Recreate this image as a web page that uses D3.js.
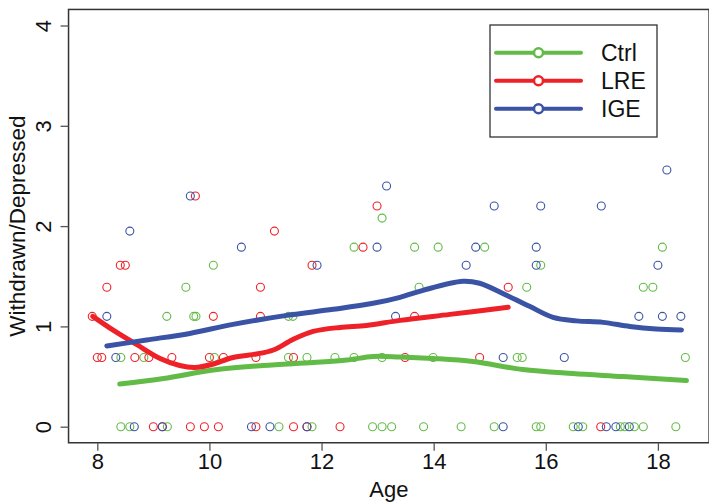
<!DOCTYPE html>
<html><head><meta charset="utf-8">
<script src="https://cdn.jsdelivr.net/npm/d3@7"></script>
<style>body{margin:0;background:#fff}svg{display:block}</style>
</head><body>
<svg id="chart" width="709" height="504"></svg>
<script>
// ---- data ----
const groups = ["Ctrl", "LRE", "IGE"];
const groupColors = ["#62BB46", "#EE2128", "#3A53A4"];
const xTicks = [8, 10, 12, 14, 16, 18];
const yTicks = [0, 1, 2, 3, 4];

// Ctrl points: [age, value]
const ctrlPoints = [
  [8.42,0],[8.58,0],[9.25,0],[11.24,0],[11.83,0],[12.91,0],[13.08,0],[13.25,0],[13.82,0],[14.49,0],
  [15.08,0],[15.83,0],[15.91,0],[16.49,0],[16.66,0],[17.33,0],[17.41,0],[17.58,0],[17.74,0],[18.32,0],
  [8.42,0.69],[8.83,0.69],[10.09,0.69],[11.41,0.69],[11.74,0.69],[12.24,0.69],[12.58,0.69],[13.08,0.69],
  [13.99,0.69],[15.49,0.69],[15.58,0.69],[18.49,0.69],
  [9.24,1.10],[9.72,1.10],[9.76,1.10],[11.41,1.10],[11.49,1.10],
  [9.58,1.39],[13.74,1.39],[15.66,1.39],[17.74,1.39],[17.91,1.39],
  [10.07,1.61],[15.91,1.61],
  [12.58,1.79],[13.66,1.79],[14.08,1.79],[14.91,1.79],[18.08,1.79],
  [13.08,2.08]
];
// LRE points
const lrePoints = [
  [9.00,0],[9.16,0],[9.66,0],[9.91,0],[10.16,0],[10.83,0],[11.50,0],[11.74,0],[12.33,0],[16.98,0],
  [8.00,0.69],[8.08,0.69],[8.67,0.69],[8.92,0.69],[9.33,0.69],[10.00,0.69],[10.25,0.69],[10.83,0.69],
  [11.50,0.69],[13.49,0.69],[14.82,0.69],
  [7.91,1.10],[10.07,1.10],[10.91,1.10],[13.66,1.10],
  [8.17,1.39],[10.91,1.39],[15.33,1.39],
  [8.41,1.61],[8.50,1.61],[11.83,1.61],
  [12.74,1.79],
  [11.16,1.95],
  [12.99,2.20],
  [9.75,2.30]
];
// IGE points
const igePoints = [
  [8.66,0],[9.16,0],[10.75,0],[11.08,0],[11.74,0],[15.24,0],[16.58,0],[17.08,0],[17.25,0],[17.49,0],
  [8.33,0.69],[15.24,0.69],[16.33,0.69],
  [8.17,1.10],[13.32,1.10],[17.66,1.10],[18.08,1.10],[18.41,1.10],
  [11.92,1.61],[14.58,1.61],[15.83,1.61],[18.00,1.61],
  [10.57,1.79],[12.99,1.79],[14.75,1.79],[15.83,1.79],
  [8.58,1.95],
  [15.08,2.20],[15.91,2.20],[16.99,2.20],
  [9.66,2.30],
  [13.16,2.40],
  [18.16,2.56]
];

// smoothed curves
const ctrlCurve = [
  [8.40,0.425],[9.18,0.48],[10.07,0.565],[10.96,0.61],[11.85,0.64],[12.45,0.665],[12.92,0.70],
  [13.40,0.695],[13.99,0.68],[14.70,0.65],[15.59,0.57],[16.48,0.53],[17.38,0.50],[18.51,0.46]
];
const lreCurve = [
  [7.92,1.10],[8.29,0.96],[8.70,0.82],[9.12,0.68],[9.47,0.61],[9.74,0.59],[10.07,0.625],[10.42,0.69],
  [10.84,0.725],[11.14,0.765],[11.49,0.87],[11.85,0.95],[12.33,0.99],[12.80,1.01],[13.40,1.06],
  [14.29,1.12],[15.33,1.19]
];
const igeCurve = [
  [8.17,0.805],[8.88,0.865],[9.65,0.93],[10.42,1.02],[11.38,1.11],[12.21,1.17],[12.92,1.23],[13.40,1.29],
  [13.81,1.36],[14.52,1.45],[14.82,1.43],[15.30,1.31],[15.71,1.20],[16.13,1.09],[16.55,1.055],
  [17.02,1.04],[17.50,1.00],[17.97,0.975],[18.42,0.965]
];

const pointSets = [ctrlPoints, lrePoints, igePoints];
const curves = [ctrlCurve, lreCurve, igeCurve];

// ---- drawing ----
const svg = d3.select("#chart");
const font = "'Liberation Sans', Arial, Helvetica, sans-serif";

const x = d3.scaleLinear().domain([8, 18]).range([97.3, 657.9]);
const y = d3.scaleLinear().domain([0, 4]).range([426.7, 25.5]);

const pLeft = x(7.487), pRight = x(18.913), pTop = y(4.16), pBottom = y(-0.16);

// plot frame
svg.append("rect")
  .attr("x", pLeft).attr("y", pTop)
  .attr("width", pRight - pLeft).attr("height", pBottom - pTop)
  .attr("fill", "none").attr("stroke", "#333").attr("stroke-width", 1.5);

// x axis
const xAxis = d3.axisBottom(x).tickValues(xTicks).tickSize(8).tickPadding(3).tickFormat(d3.format("d"));
const gx = svg.append("g").attr("transform", `translate(0,${pBottom})`).call(xAxis);
gx.select(".domain").remove();
gx.selectAll(".tick line").attr("stroke", "#555").attr("stroke-width", 1.3);
gx.selectAll(".tick text").attr("font-family", font).attr("font-size", 22).attr("fill", "#111")
  .attr("dy", "0.71em");

// y axis
const yAxis = d3.axisLeft(y).tickValues(yTicks).tickSize(8).tickFormat(d3.format("d"));
const gy = svg.append("g").attr("transform", `translate(${pLeft},0)`).call(yAxis);
gy.select(".domain").remove();
gy.selectAll(".tick line").attr("stroke", "#555").attr("stroke-width", 1.3);
gy.selectAll(".tick text").remove();
gy.selectAll(".tick").append("text")
  .attr("transform", "translate(-18,0) rotate(-90)")
  .attr("text-anchor", "middle")
  .attr("font-family", font).attr("font-size", 22).attr("fill", "#111")
  .text(d => d);

// axis titles
svg.append("text").attr("x", (pLeft + pRight) / 2).attr("y", 497)
  .attr("text-anchor", "middle").attr("font-family", font).attr("font-size", 22).attr("fill", "#111")
  .text("Age");
svg.append("text").attr("transform", `translate(25,${(pTop + pBottom) / 2}) rotate(-90)`)
  .attr("text-anchor", "middle").attr("font-family", font).attr("font-size", 22.5).attr("fill", "#111")
  .text("Withdrawn/Depressed");

// points
const plot = svg.append("g");
pointSets.forEach((pts, i) => {
  plot.append("g").selectAll("circle").data(pts).join("circle")
    .attr("cx", d => x(d[0])).attr("cy", d => y(d[1])).attr("r", 4)
    .attr("fill", "none").attr("stroke", groupColors[i]).attr("stroke-width", 1.1);
});

// smooth curves
const line = d3.line().x(d => x(d[0])).y(d => y(d[1])).curve(d3.curveCatmullRom.alpha(0.5));
curves.forEach((c, i) => {
  plot.append("path").datum(c).attr("d", line)
    .attr("fill", "none").attr("stroke", groupColors[i]).attr("stroke-width", 5)
    .attr("stroke-linecap", "round").attr("stroke-linejoin", "round");
});

// legend
const lg = svg.append("g");
lg.append("rect").attr("x", 490).attr("y", 25).attr("width", 167).attr("height", 112)
  .attr("fill", "#fff").attr("stroke", "#333").attr("stroke-width", 1.3);
groups.forEach((g, i) => {
  const ly = 52.7 + i * 28;
  lg.append("line").attr("x1", 496).attr("x2", 581).attr("y1", ly).attr("y2", ly)
    .attr("stroke", groupColors[i]).attr("stroke-width", 4).attr("stroke-linecap", "round");
  lg.append("circle").attr("cx", 538.5).attr("cy", ly).attr("r", 4.5)
    .attr("fill", "#fff").attr("stroke", groupColors[i]).attr("stroke-width", 2.5);
  lg.append("text").attr("x", 601).attr("y", ly).attr("dy", "0.36em")
    .attr("font-family", font).attr("font-size", 23).attr("fill", "#111").text(g);
});
</script>
</body></html>
